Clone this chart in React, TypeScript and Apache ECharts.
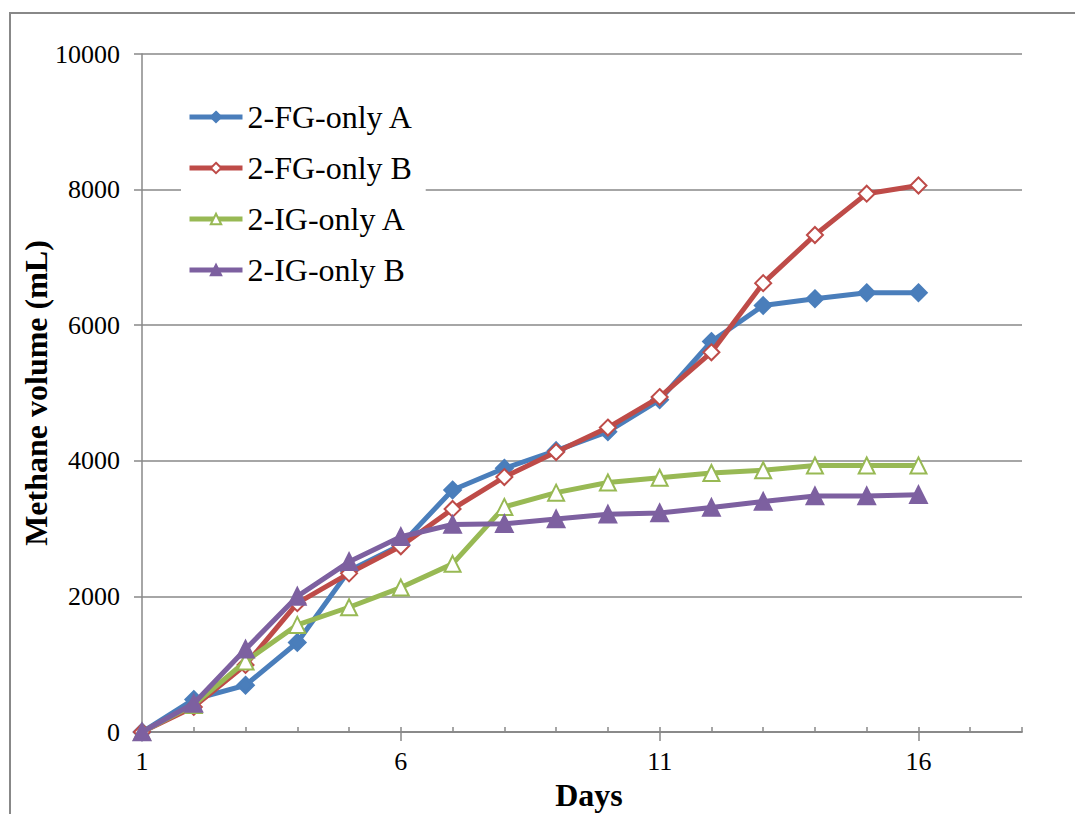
import React, { useEffect, useRef } from "react";
import * as echarts from "echarts";

const days = ["1","2","3","4","5","6","7","8","9","10","11","12","13","14","15","16","17","18"];
const fgA = [0, 480, 690, 1320, 2380, 2760, 3570, 3890, 4150, 4430, 4900, 5760, 6290, 6390, 6480, 6480];
const fgB = [0, 370, 990, 1900, 2340, 2740, 3290, 3760, 4130, 4490, 4940, 5600, 6620, 7330, 7940, 8060];
const igA = [0, 400, 1040, 1580, 1840, 2130, 2480, 3320, 3530, 3680, 3750, 3820, 3860, 3930, 3930, 3930];
const igB = [0, 420, 1220, 2000, 2510, 2880, 3060, 3070, 3140, 3210, 3230, 3310, 3400, 3480, 3480, 3500];
const names = ["2-FG-only A", "2-FG-only B", "2-IG-only A", "2-IG-only B"];
const colors = ["#4A7EBB", "#BE4B48", "#98B954", "#7D60A0"];
const symbols = ["diamond", "emptyDiamond", "emptyTriangle", "triangle"];

const FONT = "'Liberation Serif', 'Times New Roman', serif";

export default function App() {
  const ref = useRef<HTMLDivElement>(null);
  useEffect(() => {
    const chart = echarts.init(ref.current!, null, { renderer: "svg" });
    const seriesData = [fgA, fgB, igA, igB];
    chart.setOption({
      animation: false,
      backgroundColor: "#fff",
      grid: { left: 142, right: 53, top: 54, bottom: 82, containLabel: false },
      legend: {
        left: 181,
        top: 95,
        orient: "vertical",
        backgroundColor: "#fff",
        padding: [6, 12, 6, 6],
        itemGap: 19,
        itemWidth: 53,
        itemHeight: 13,
        lineStyle: { width: 5 },
        textStyle: { fontFamily: FONT, fontSize: 32, lineHeight: 32, color: "#000" },
        data: names,
      },
      xAxis: [
        {
          type: "category",
          data: days,
          boundaryGap: false,
          axisLine: { show: true, lineStyle: { color: "#888", width: 1.5 } },
          axisTick: { show: true, inside: true, length: 5, interval: 0, lineStyle: { color: "#888", width: 1.5 } },
          axisLabel: { show: false },
          splitLine: { show: false },
        },
        {
          type: "category",
          data: days,
          boundaryGap: false,
          position: "bottom",
          axisLine: { show: true, lineStyle: { color: "#888", width: 1.5 } },
          axisTick: {
            show: true,
            inside: false,
            length: 9,
            interval: (i: number) => i % 5 === 0,
            lineStyle: { color: "#888", width: 1.5 },
          },
          axisLabel: {
            interval: (i: number) => i % 5 === 0,
            margin: 16,
            fontFamily: FONT,
            fontSize: 26,
            color: "#000",
          },
          splitLine: { show: false },
        },
      ],
      yAxis: {
        type: "value",
        min: 0,
        max: 10000,
        interval: 2000,
        axisLine: { show: true, lineStyle: { color: "#888", width: 1.5 } },
        axisTick: { show: true, inside: false, length: 8, lineStyle: { color: "#888", width: 1.5 } },
        axisLabel: {
          margin: 22,
          fontFamily: FONT,
          fontSize: 26,
          color: "#000",
          formatter: (v: number) => String(v),
        },
        splitLine: { show: true, lineStyle: { color: "#888", width: 1.5 } },
      },
      graphic: [
        {
          type: "rect",
          shape: { x: 10, y: 13, width: 1200, height: 1000 },
          style: { fill: "none", stroke: "#888", lineWidth: 2 },
          silent: true,
          z: -10,
        },
        {
          type: "text",
          x: 36,
          y: 393,
          rotation: Math.PI / 2,
          style: {
            text: "Methane volume (mL)",
            fontFamily: FONT,
            fontSize: 32,
            fontWeight: "bold",
            fill: "#000",
            align: "center",
            verticalAlign: "middle",
          },
        },
        {
          type: "text",
          x: 589,
          y: 795,
          style: {
            text: "Days",
            fontFamily: FONT,
            fontSize: 32,
            fontWeight: "bold",
            fill: "#000",
            align: "center",
            verticalAlign: "middle",
          },
        },
      ],
      series: names.map((n, i) => ({
        name: n,
        type: "line",
        xAxisIndex: 0,
        data: seriesData[i],
        symbol: symbols[i],
        symbolSize: 16,
        showAllSymbol: true,
        lineStyle: { color: colors[i], width: 5 },
        itemStyle: { color: colors[i], borderColor: colors[i], borderWidth: 2.5 },
        z: 2 + i,
      })),
    });
    return () => chart.dispose();
  }, []);
  return (
    <div
      ref={ref}
      style={{ position: "fixed", left: 0, top: 0, width: 1075, height: 814 }}
    />
  );
}
